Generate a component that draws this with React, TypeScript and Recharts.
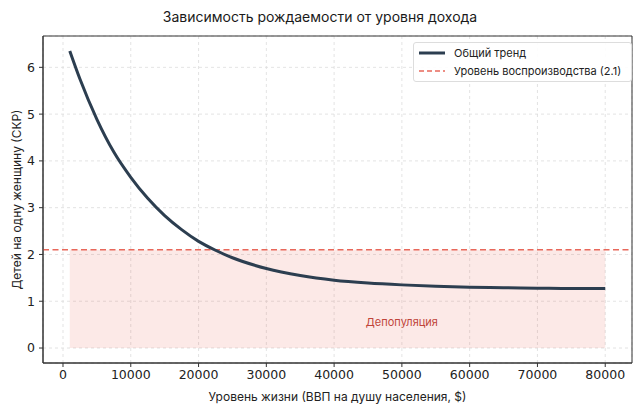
import {
  ComposedChart,
  Line,
  XAxis,
  YAxis,
  CartesianGrid,
  ReferenceArea,
  ReferenceLine,
  ReferenceDot,
  Label,
} from "recharts";

// Значения
const income = [
  1000, 2500, 5000, 7500, 10000, 12500, 15000, 17500, 20000, 22500, 25000,
  30000, 35000, 40000, 45000, 50000, 55000, 60000, 65000, 70000, 75000, 80000,
];
const fertility = [
  6.35, 5.75, 4.89, 4.19, 3.65, 3.2, 2.83, 2.53, 2.28, 2.09, 1.93,
  1.7, 1.55, 1.45, 1.39, 1.35, 1.32, 1.3, 1.29, 1.28, 1.27, 1.27,
];
const xTicks = [0, 10000, 20000, 30000, 40000, 50000, 60000, 70000, 80000];
const yTicks = [0, 1, 2, 3, 4, 5, 6];
const replacementRate = 2.1;
const legendNames = ["Общий тренд", "Уровень воспроизводства (2.1)"];

const data = income.map((x, i) => ({ x, y: fertility[i] }));

const FONT = "Inter, 'DejaVu Sans', sans-serif";
const TICK_FONT = "'DejaVu Sans', sans-serif";
const TREND = "#2c3e50";
const RED = "#e8685b";

const YTitle = ({ viewBox }: any) => {
  const cx = 16;
  const cy = viewBox.y + viewBox.height / 2;
  return (
    <text
      x={cx}
      y={cy}
      transform={`rotate(-90, ${cx}, ${cy})`}
      textAnchor="middle"
      dominantBaseline="central"
      fontSize={12}
      fill="#222"
      fontFamily={FONT}
    >
      Детей на одну женщину (СКР)
    </text>
  );
};

const LegendBox = () => (
  <div
    style={{
      position: "absolute",
      left: 413,
      top: 42,
      width: 212,
      height: 37,
      border: "1px solid #ddd",
      borderRadius: 3,
      background: "rgba(255,255,255,0.9)",
      padding: "1px 0 0 5px",
      fontFamily: FONT,
      fontSize: 11,
      color: "#222",
      whiteSpace: "nowrap",
    }}
  >
    <div style={{ display: "flex", alignItems: "center", height: 18 }}>
      <svg width={26} height={6} style={{ marginRight: 9 }}>
        <line x1={0} y1={3} x2={26} y2={3} stroke={TREND} strokeWidth={3} />
      </svg>
      {legendNames[0]}
    </div>
    <div style={{ display: "flex", alignItems: "center", height: 18 }}>
      <svg width={26} height={6} style={{ marginRight: 9 }}>
        <line
          x1={0}
          y1={3}
          x2={26}
          y2={3}
          stroke={RED}
          strokeWidth={1.5}
          strokeDasharray="5 3"
        />
      </svg>
      {legendNames[1]}
    </div>
  </div>
);

export default function App() {
  return (
    <div
      style={{
        position: "absolute",
        left: 0,
        top: 0,
        width: 640,
        height: 410,
        background: "#fff",
        fontFamily: FONT,
      }}
    >
      <div
        style={{
          position: "absolute",
          top: 8,
          width: 640,
          textAlign: "center",
          fontSize: 14,
          color: "#1a1a1a",
        }}
      >
        Зависимость рождаемости от уровня дохода
      </div>
      <ComposedChart
        width={640}
        height={410}
        data={data}
        margin={{ top: 36, right: 8, bottom: 0, left: 0 }}
      >
        <CartesianGrid stroke="#dcdcdc" strokeDasharray="3 3" strokeWidth={0.8} />
        <XAxis
          dataKey="x"
          type="number"
          domain={[-2950, 83950]}
          ticks={xTicks}
          allowDataOverflow
          height={47}
          tickSize={4}
          tickMargin={3}
          tick={{ fontSize: 12.5, fill: "#222", fontFamily: TICK_FONT }}
          axisLine={{ stroke: "#333" }}
          tickLine={{ stroke: "#333" }}
        >
          <Label
            value="Уровень жизни (ВВП на душу населения, $)"
            position="insideBottom"
            offset={9}
            fontSize={12}
            fill="#222"
            fontFamily={FONT}
          />
        </XAxis>
        <YAxis
          type="number"
          domain={[-0.32, 6.67]}
          ticks={yTicks}
          allowDataOverflow
          width={43}
          tickSize={4}
          tickMargin={4}
          tick={{ fontSize: 12.5, fill: "#222", fontFamily: TICK_FONT }}
          axisLine={{ stroke: "#333" }}
          tickLine={{ stroke: "#333" }}
        >
          <Label content={YTitle} />
        </YAxis>
        <ReferenceArea
          x1={income[0]}
          x2={income[income.length - 1]}
          y1={0}
          y2={replacementRate}
          fill="#e74c3c"
          fillOpacity={0.12}
          stroke="none"
        />
        <ReferenceLine
          y={replacementRate}
          stroke={RED}
          strokeWidth={1.5}
          strokeDasharray="6 3.5"
        />
        <Line
          type="monotone"
          dataKey="y"
          stroke={TREND}
          strokeWidth={3}
          dot={false}
          isAnimationActive={false}
        />
        <ReferenceDot
          x={50000}
          y={0.55}
          r={0}
          fill="none"
          stroke="none"
          label={{
            value: "Депопуляция",
            position: "center",
            fontSize: 11,
            fill: "#c0453a",
            fontFamily: FONT,
          }}
        />
        <ReferenceArea
          x1={-2950}
          x2={83950}
          y1={-0.32}
          y2={6.67}
          fill="none"
          stroke="#333"
          strokeWidth={1}
        />
      </ComposedChart>
      <LegendBox />
    </div>
  );
}
